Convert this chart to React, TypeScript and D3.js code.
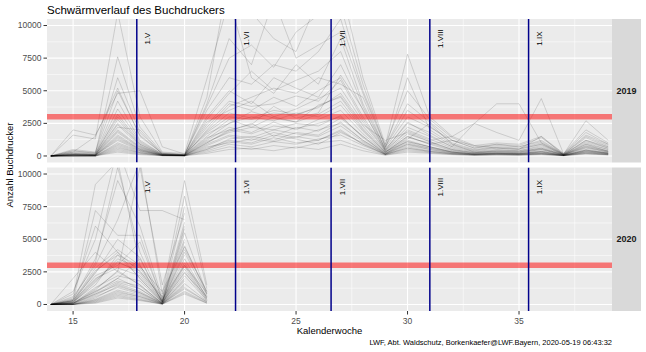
import React from 'react';
import * as d3 from 'd3';

// Kalenderwochen
const WEEKS_2019 = [14, 15, 16, 17, 18, 19, 20, 21, 22, 23, 24, 25, 26, 27, 28, 29, 30, 31, 32, 33, 34, 35, 36, 37, 38, 39];
const WEEKS_2020 = [14, 15, 16, 17, 18, 19, 20, 21];

// Fallenfänge 2019 (eine Zeile je Falle, KW 14..39)
const TRAPS_2019: (number | null)[][] = [
    [0, 100, 50, 1200, 400, 50, 30, 800, 1500, 1200, 1800, 1400, 2000, 2500, 1200, 200, 900, 600, 300, 150, 200, 150, 300, 50, 400, 200],
    [0, 200, 100, 2500, 900, 100, 50, 1500, 2800, 2200, 3000, 2600, 3200, 4200, 2000, 300, 1500, 900, 400, 200, 300, 250, 500, 80, 700, 300],
    [0, 0, 0, 500, 200, 30, 20, 400, 900, 700, 1100, 900, 1300, 1600, 800, 100, 500, 300, 150, 80, 100, 80, 150, 30, 200, 100],
    [0, 300, 1500, 5200, 1500, 200, 100, 2200, 4000, 3500, 4500, 3800, 5000, 6000, 3000, 500, 2500, 1800, 800, 400, 600, 500, 900, 100, 1200, 600],
    [0, 1600, 1300, 11000, 3000, 300, 200, 5900, 12000, 6000, 4800, 7000, 5500, 9000, 4000, 600, 3000, 2200, 1200, 600, 900, 700, 1200, 150, 1600, 900],
    [0, 50, 30, 1800, 600, 80, 40, 1000, 1900, 2500, 1500, 2200, 1900, 2900, 1500, 150, 1200, 700, 350, 180, 250, 200, 400, 60, 500, 250],
    [0, 100, 80, 3200, 1000, 150, 60, 2600, 3500, 4200, 3000, 3600, 4400, 5200, 2600, 400, 2000, 1300, 600, 300, 450, 400, 700, 100, 900, 500],
    [0, 0, 20, 800, 300, 40, 20, 600, 1200, 1000, 1600, 1300, 900, 1800, 1000, 120, 700, 400, 200, 100, 150, 120, 200, 40, 300, 150],
    [0, 400, 200, 7600, 2200, 250, 120, 3500, 6000, 5500, 7000, 6500, 8000, 10500, 5000, 800, 7800, 3000, 1500, 800, 1000, 900, 1500, 200, 2000, 1000],
    [0, 2000, 1600, 4800, 5000, 700, 150, 1800, 3000, 2800, 3300, 3100, 3800, 4600, 2300, 350, 1700, 1100, 500, 250, 400, 350, 600, 90, 800, 400],
    [0, 0, 0, 300, 100, 20, 10, 200, 500, 600, 400, 700, 500, 900, 400, 60, 300, 200, 100, 50, 80, 60, 100, 20, 150, 80],
    [0, 150, 100, 2000, 700, 90, 50, 3000, 5000, 4000, 6000, 5200, 4500, 7000, 3500, 500, 2200, 1500, 700, 350, 500, 400, 800, 100, 1000, 500],
    [0, 50, 40, 1500, 500, 60, 30, 1200, 2200, 1800, 2600, 2000, 2800, 3500, 1700, 250, 1300, 2500, 900, 300, 300, 250, 500, 70, 600, 300],
    [0, 250, 150, 4200, 1200, 150, 80, 4500, 14000, 11000, 9000, 8000, 12000, 13000, 6000, 900, 5000, 2800, 1400, 700, 900, 800, 1400, 180, 1800, 900],
    [0, 100, 60, 2800, 800, 100, 50, 1700, 2500, 3000, 2700, 3300, 3000, 3900, 1900, 280, 1400, 1000, 450, 220, 350, 300, 550, 80, 650, 350],
    [0, 0, 10, 900, 350, 50, 20, 700, 1000, 1300, 1100, 1500, 1200, 2000, 900, 130, 600, 350, 180, 90, 130, 100, 180, 35, 250, 120],
    [0, 80, 50, 1600, 550, 70, 35, 2000, 3800, 4500, 5200, 4800, 6000, 5500, 4500, 450, 2600, 1600, 700, 2500, 4000, 4000, 1000, 120, 1200, 700],
    [0, 200, 120, 3600, 1100, 130, 70, 2400, 4200, 3800, 4000, 4600, 4200, 5800, 2800, 420, 1900, 1200, 1500, 2500, 1800, 1200, 4400, 150, 2700, 1200],
    [0, 30, 20, 1000, 400, 50, 25, 900, 1600, 1400, 2000, 1700, 1500, 2300, 1100, 160, 800, 500, 250, 120, 180, 150, 250, 45, 350, 180],
    [0, 500, 300, 6000, 1800, 200, 100, 3800, 7500, 8500, 6800, 9500, 10800, 11500, 5500, 700, 4000, 2600, 1200, 600, 800, 700, 1100, 150, 1500, 800],
    [0, 100, 70, 2200, 2000, 120, 60, 1400, 2000, 1700, 2300, 2100, 2500, 3000, 1500, 240, 1100, 700, 300, 150, 220, 180, 350, 55, 450, 220],
    [0, 0, 0, 400, 150, 25, 15, 300, 700, 500, 800, 600, 1000, 1200, 600, 80, 400, 250, 120, 60, 90, 70, 120, 25, 180, 90],
    [0, 300, 200, 3000, 900, 120, 60, 2800, 4800, 6500, 5000, 5800, 6500, 8000, 3800, 550, 6000, 2000, 900, 450, 650, 550, 900, 120, 1100, 600],
    [0, 60, 40, 1300, 450, 60, 30, 1100, 1800, 2200, 2000, 2500, 2300, 3100, 1400, 200, 1000, 600, 280, 140, 200, 170, 300, 50, 400, 200],
    [0, 150, 90, 2400, 750, 90, 50, 1900, 3300, 2900, 3500, 3200, 3700, 4800, 2400, 1200, 1800, 1100, 500, 250, 380, 320, 600, 90, 750, 380],
    [0, 20, 10, 700, 250, 35, 15, 500, 1300, 1500, 1200, 1800, 1600, 2600, 1200, 140, 900, 500, 220, 110, 170, 140, 220, 40, 320, 160],
    [0, 100, 60, 1900, 650, 80, 40, 1300, 2500, 3400, 2900, 2600, 3900, 4500, 2100, 300, 1500, 900, 1200, 800, 600, 500, 1500, 70, 900, 350],
    [0, 80, 50, 1400, 500, 60, 30, 1000, 2000, 2400, 3800, 2900, 3300, 6200, 3600, 350, 1100, 700, 300, 150, 220, 180, 350, 55, 450, 220],
    [0, 400, 250, 5000, 1600, 180, 90, 4000, 9000, 7000, 12000, 7500, 8500, 9500, 4800, 700, 3500, 2300, 1000, 500, 700, 600, 1000, 130, 1400, 700],
    [0, 0, 0, 600, 250, 30, 20, 500, 1100, 900, 1400, 1000, 1200, 1900, 900, 120, 600, 350, 170, 85, 120, 100, 170, 35, 250, 120],
];

// Fallenfänge 2020 (KW 14..21, null = noch kein Wert)
const TRAPS_2020: (number | null)[][] = [
    [0, 100, 800, 1500, 900, 100, 2500, 300],
    [0, 200, 2500, 4000, 2000, 150, 5500, 800],
    [0, 0, 300, 900, 600, 50, 1200, 200],
    [0, 500, 9200, 11000, 3000, 200, 6000, null],
    [0, 50, 1200, 2500, 1500, 80, 3200, 500],
    [0, 300, 7200, 5300, 5300, 300, 4800, null],
    [0, 0, 100, 500, 300, 20, 800, 100],
    [0, 1000, 5000, 12000, 7200, 7200, 6500, null],
    [0, 100, 1800, 3200, 2600, 200, 4200, 1000],
    [0, 150, 2200, 3000, 4800, 400, 3000, 600],
    [0, 0, 600, 1300, 800, 60, 1800, null],
    [0, 400, 3500, 9500, 6000, 500, 8300, 1200],
    [0, 50, 900, 2000, 1200, 100, 2700, 400],
    [0, 200, 1500, 3800, 2000, 150, 5800, null],
    [0, 0, 200, 700, 400, 30, 1000, 150],
    [0, 2000, 4000, 2500, 10500, 1500, 7000, null],
    [0, 100, 1000, 1800, 1400, 90, 2200, 300],
    [0, 300, 2800, 4200, 3000, 250, 4500, 800],
    [0, 0, 400, 1100, 700, 50, 1500, null],
    [0, 600, 3000, 6500, 11000, 800, 9500, 1500],
    [0, 100, 1300, 2200, 1800, 120, 3500, 500],
    [0, 50, 700, 1600, 1000, 70, 2000, null],
    [0, 250, 2000, 2800, 2200, 180, 4000, 700],
    [0, 0, 150, 600, 350, 25, 900, 100],
    [0, 150, 1700, 3500, 2800, 300, 6300, null],
    [0, 300, 2400, 5000, 3600, 200, 3000, 900],
    [0, 0, 500, 1400, 900, 60, 1600, 250],
    [0, 800, 6000, 4000, 2500, 600, 5000, null],
    [0, 100, 1100, 2600, 1500, 100, 2900, 400],
    [0, 200, 1900, 3300, 2400, 200, 3800, null],
    [0, 0, 250, 800, 500, 40, 1300, 200],
    [0, 400, 3200, 10500, 4000, 300, 7500, null],
    [0, 100, 1000, 2000, 3500, 150, 2400, 600],
    [0, 50, 800, 1700, 1200, 80, 1900, null],
    [0, 300, 2600, 3800, 2900, 1000, 4400, 1000],
    [0, 0, 350, 1000, 600, 45, 1400, null],
];

// Monatsanfänge als Kalenderwoche
const MONTH_WEEKS = [17.857, 22.286, 26.571, 31.0, 35.429];
const MONTH_LABELS = ['1.V', '1.VI', '1.VII', '1.VIII', '1.IX'];

const THRESHOLD = 3000;
const Y_TICKS = [0, 2500, 5000, 7500, 10000];
const Y_MINOR = [1250, 3750, 6250, 8750];
const X_TICKS = [15, 20, 25, 30, 35];
const X_MINOR = [17.5, 22.5, 27.5, 32.5, 37.5];

const FONT = '"Liberation Sans", Arial, sans-serif';

const PANEL_LEFT = 47;
const PANEL_RIGHT = 612;
const STRIP_RIGHT = 641;

const panels = [
    { year: '2019', top: 19, bottom: 162.5, weeks: WEEKS_2019, traps: TRAPS_2019 },
    { year: '2020', top: 167.5, bottom: 311, weeks: WEEKS_2020, traps: TRAPS_2020 },
];

const x = d3.scaleLinear().domain([13.83, 39.17]).range([PANEL_LEFT, PANEL_RIGHT]);

const App: React.FC = () => {
    return (
        <svg
            width={646}
            height={352}
            style={{ position: 'absolute', left: 0, top: 0, background: 'white' }}
            fontFamily={FONT}
        >
            <defs>
                {panels.map((p) => (
                    <clipPath id={`clip-${p.year}`} key={p.year}>
                        <rect x={PANEL_LEFT} y={p.top} width={PANEL_RIGHT - PANEL_LEFT} height={p.bottom - p.top} />
                    </clipPath>
                ))}
            </defs>

            <text x={PANEL_LEFT} y={13.5} fontSize={11.5} fill="#000">
                Schwärmverlauf des Buchdruckers
            </text>

            {panels.map((p) => {
                const y = d3.scaleLinear().domain([-500, 10500]).range([p.bottom, p.top]);
                const line = d3
                    .line<number | null>()
                    .defined((v) => v != null)
                    .x((_, i) => x(p.weeks[i]))
                    .y((v) => y(v as number));
                return (
                    <g key={p.year}>
                        <rect x={PANEL_LEFT} y={p.top} width={PANEL_RIGHT - PANEL_LEFT} height={p.bottom - p.top} fill="#EBEBEB" />
                        {Y_MINOR.map((t) => (
                            <line key={'ym' + t} x1={PANEL_LEFT} x2={PANEL_RIGHT} y1={y(t)} y2={y(t)} stroke="white" strokeWidth={0.55} />
                        ))}
                        {X_MINOR.map((t) => (
                            <line key={'xm' + t} x1={x(t)} x2={x(t)} y1={p.top} y2={p.bottom} stroke="white" strokeWidth={0.55} />
                        ))}
                        {Y_TICKS.map((t) => (
                            <line key={'y' + t} x1={PANEL_LEFT} x2={PANEL_RIGHT} y1={y(t)} y2={y(t)} stroke="white" strokeWidth={1.1} />
                        ))}
                        {X_TICKS.map((t) => (
                            <line key={'x' + t} x1={x(t)} x2={x(t)} y1={p.top} y2={p.bottom} stroke="white" strokeWidth={1.1} />
                        ))}

                        <g clipPath={`url(#clip-${p.year})`}>
                            {p.traps.map((s, i) => (
                                <path key={i} d={line(s) || ''} fill="none" stroke="black" strokeOpacity={0.2} strokeWidth={0.7} />
                            ))}
                            <line x1={PANEL_LEFT} x2={PANEL_RIGHT} y1={y(THRESHOLD)} y2={y(THRESHOLD)} stroke="red" strokeOpacity={0.5} strokeWidth={5.5} />
                            {MONTH_WEEKS.map((w) => (
                                <line key={w} x1={x(w)} x2={x(w)} y1={p.top} y2={p.bottom} stroke="#00008B" strokeWidth={1.5} />
                            ))}
                            {MONTH_WEEKS.map((w, i) => (
                                <text
                                    key={'l' + w}
                                    transform={`translate(${x(w + 0.5)},${y(9000)}) rotate(-90)`}
                                    textAnchor="middle"
                                    dominantBaseline="central"
                                    fontSize={8}
                                    fill="#000"
                                >
                                    {MONTH_LABELS[i]}
                                </text>
                            ))}
                        </g>

                        {/* y-Achse */}
                        {Y_TICKS.map((t) => (
                            <g key={'yt' + t}>
                                <line x1={PANEL_LEFT - 3.5} x2={PANEL_LEFT} y1={y(t)} y2={y(t)} stroke="#333333" strokeWidth={1} />
                                <text x={PANEL_LEFT - 5.5} y={y(t)} dy="0.35em" textAnchor="end" fontSize={8.5} fill="#4D4D4D">
                                    {t}
                                </text>
                            </g>
                        ))}

                        {/* Streifen */}
                        <rect x={PANEL_RIGHT} y={p.top} width={STRIP_RIGHT - PANEL_RIGHT} height={p.bottom - p.top} fill="#D9D9D9" />
                        <text
                            x={(PANEL_RIGHT + STRIP_RIGHT) / 2}
                            y={(p.top + p.bottom) / 2}
                            dy="0.35em"
                            textAnchor="middle"
                            fontSize={9}
                            fontWeight="bold"
                            fill="#1A1A1A"
                        >
                            {p.year}
                        </text>
                    </g>
                );
            })}

            {/* x-Achse */}
            {X_TICKS.map((t) => (
                <g key={'xt' + t}>
                    <line x1={x(t)} x2={x(t)} y1={311} y2={314.5} stroke="#333333" strokeWidth={1} />
                    <text x={x(t)} y={323.5} textAnchor="middle" fontSize={8.5} fill="#4D4D4D">
                        {t}
                    </text>
                </g>
            ))}

            <text x={(PANEL_LEFT + PANEL_RIGHT) / 2} y={333.5} textAnchor="middle" fontSize={9.5} fill="#000">
                Kalenderwoche
            </text>
            <text transform="translate(13,165) rotate(-90)" textAnchor="middle" fontSize={9.5} fill="#000">
                Anzahl Buchdrucker
            </text>
            <text x={PANEL_RIGHT} y={345} textAnchor="end" fontSize={7.5} fill="#000">
                LWF, Abt. Waldschutz, Borkenkaefer@LWF.Bayern, 2020-05-19 06:43:32
            </text>
        </svg>
    );
};

export default App;
